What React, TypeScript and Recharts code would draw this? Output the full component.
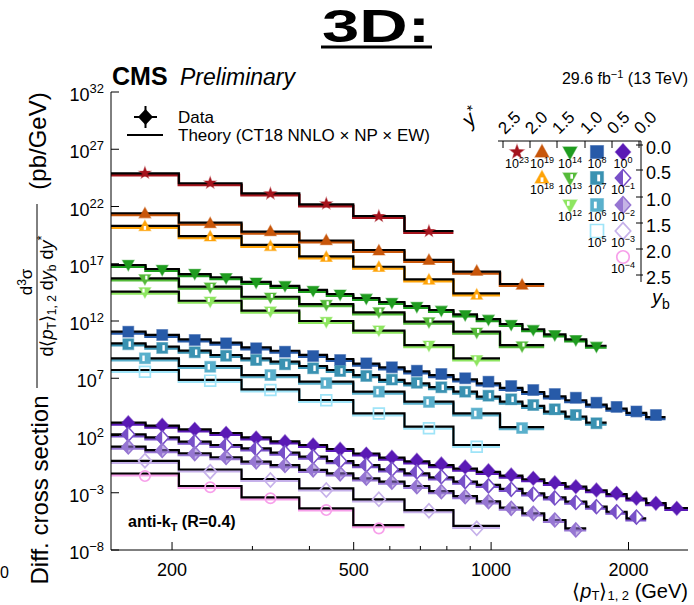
import React from 'react';
import { ComposedChart, Line, Scatter, XAxis, YAxis } from 'recharts';

const FONT = '"Liberation Sans", Arial, Helvetica, sans-serif';

// pT bin edges in GeV (fine binning and the merged, two-bin binning)
const fineEdges = [147, 175, 207, 243, 284, 329, 380, 437, 499, 569, 646, 732, 827, 931, 1046, 1171, 1307, 1455, 1616, 1791, 1981, 2187, 2411, 2700];
const wideEdges = [147, 207, 284, 380, 499, 646, 827, 1046, 1307, 1616];

const xTicks = [200, 300, 400, 500, 600, 700, 800, 900, 1000, 2000];
const xLabels = [200, 500, 1000, 2000];
const yTickExp = [32, 27, 22, 17, 12, 7, 2, -3, -8];

// log10 of the plotted (already scaled) cross section, one entry per pT bin
const starTheory = [24.90, 24.03, 23.15, 22.19, 21.17, 19.86];
const starData = [24.92, 24.06, 23.12, 22.24, 21.14, 19.83];

const triUp1Theory = [21.41, 20.59, 19.80, 19.03, 18.20, 17.33, 16.31, 15.23];
const triUp1Data = [21.38, 20.52, 19.82, 19.03, 18.13, 17.31, 16.36, 15.14];

const triUp2Theory = [20.30, 19.42, 18.64, 17.65, 16.74, 15.64, 14.42];
const triUp2Data = [20.25, 19.36, 18.52, 17.57, 16.69, 15.58, 14.27];

const triDn1Theory = [16.89, 16.54, 16.10, 15.82, 15.41, 15.06, 14.71, 14.36, 14.01, 13.66, 13.31, 12.96, 12.58, 12.17, 11.74, 11.28, 10.84, 10.40, 9.84];
const triDn1Data = [16.93, 16.50, 16.15, 15.78, 15.38, 15.09, 14.67, 14.33, 13.98, 13.62, 13.27, 12.93, 12.54, 12.14, 11.70, 11.25, 10.80, 10.36, 9.78];

const triDn2Theory = [15.73, 15.00, 14.12, 13.48, 12.76, 11.94, 11.07, 9.90];
const triDn2Data = [15.68, 14.96, 14.08, 13.44, 12.80, 11.92, 11.02, 9.82];

const triDn3Theory = [14.56, 13.77, 12.90, 12.00, 11.16, 9.90, 8.74];
const triDn3Data = [14.54, 13.72, 12.86, 11.95, 11.20, 9.88, 8.62];

const sq1Theory = [11.07, 10.78, 10.40, 10.12, 9.70, 9.40, 9.04, 8.68, 8.28, 7.95, 7.60, 7.28, 6.90, 6.55, 6.16, 5.80, 5.42, 5.08, 4.70, 4.34, 3.98, 3.60];
const sq1Data = [11.07, 10.78, 10.34, 10.05, 9.62, 9.32, 8.94, 8.59, 8.30, 7.96, 7.66, 7.37, 7.00, 6.70, 6.32, 5.97, 5.62, 5.30, 4.87, 4.50, 4.10, 3.79];

const sq2Theory = [10.05, 9.76, 9.41, 9.03, 8.74, 8.45, 8.07, 7.72, 7.28, 6.85, 6.56, 6.23, 5.83, 5.39, 4.95, 4.58, 4.08, 3.64, 3.12];
const sq2Data = [9.98, 9.65, 9.27, 8.96, 8.59, 8.22, 7.87, 7.63, 7.20, 6.88, 6.60, 6.21, 5.83, 5.48, 5.16, 4.66, 4.29, 3.79, 3.07];

const sq3Theory = [8.74, 8.07, 7.28, 6.70, 5.83, 4.95, 3.94, 2.74];
const sq3Data = [8.74, 8.00, 7.28, 6.58, 5.83, 4.93, 3.92, 2.65];

const sq4Theory = [7.72, 6.85, 6.03, 5.10, 3.94, 2.77, 1.17];
const sq4Data = [7.57, 6.79, 5.97, 5.08, 3.92, 2.63, 1.02];

const dm1Theory = [3.12, 2.87, 2.54, 2.22, 1.83, 1.48, 1.17, 0.82, 0.43, 0.06, -0.26, -0.58, -0.90, -1.18, -1.50, -1.82, -2.15, -2.47, -2.78, -3.12, -3.50, -3.90, -4.33];
const dm1Data = [3.12, 2.90, 2.54, 2.19, 1.78, 1.46, 1.17, 0.80, 0.38, 0.10, -0.16, -0.48, -0.75, -1.07, -1.45, -1.74, -2.12, -2.47, -2.76, -3.05, -3.48, -3.92, -4.36];

const dm2Theory = [2.10, 1.84, 1.46, 1.17, 0.88, 0.50, 0.15, -0.23, -0.58, -0.95, -1.30, -1.65, -2.02, -2.32, -2.67, -3.05, -3.40, -3.78, -4.22, -4.66, -5.23];
const dm2Data = [2.10, 1.80, 1.46, 1.15, 0.85, 0.50, 0.15, -0.23, -0.58, -0.95, -1.18, -1.60, -2.02, -2.40, -2.70, -3.12, -3.45, -3.85, -4.22, -4.66, -5.12];

const dm3Theory = [1.02, 0.73, 0.45, 0.10, -0.29, -0.58, -1.01, -1.30, -1.74, -2.03, -2.41, -2.85, -3.30, -3.75, -4.30, -4.80, -5.38, -6.11];
const dm3Data = [1.00, 0.70, 0.42, 0.08, -0.30, -0.62, -1.00, -1.35, -1.72, -2.08, -2.47, -2.91, -3.35, -3.78, -4.36, -4.80, -5.38, -6.25];

const dm4Theory = [-0.21, -0.97, -1.80, -2.61, -3.57, -4.51, -5.90];
const dm4Data = [-0.20, -1.16, -1.89, -2.76, -3.57, -4.57, -6.11];

const circTheory = [-1.32, -2.41, -3.41, -4.36, -5.82];
const circData = [-1.54, -2.52, -3.48, -4.51, -6.11];

type Kind = 'star' | 'triUp' | 'triDown' | 'square' | 'diamond' | 'circle';
type Fill = 'full' | 'half' | 'half2' | 'open';

interface Series {
  kind: Kind;
  fill: Fill;
  color: string;
  scale: number; // exponent of the scale factor shown in the legend
  edges: number[];
  theory: number[];
  data: number[];
  col: number;
  row: number;
}

const series: Series[] = [
  { kind: 'star', fill: 'full', color: '#a5141d', scale: 23, edges: wideEdges, theory: starTheory, data: starData, col: 0, row: 0 },
  { kind: 'triUp', fill: 'full', color: '#c8560a', scale: 19, edges: wideEdges, theory: triUp1Theory, data: triUp1Data, col: 1, row: 0 },
  { kind: 'triUp', fill: 'half', color: '#ffa408', scale: 18, edges: wideEdges, theory: triUp2Theory, data: triUp2Data, col: 1, row: 1 },
  { kind: 'triDown', fill: 'full', color: '#1f9c1f', scale: 14, edges: fineEdges, theory: triDn1Theory, data: triDn1Data, col: 2, row: 0 },
  { kind: 'triDown', fill: 'half', color: '#55bb3a', scale: 13, edges: wideEdges, theory: triDn2Theory, data: triDn2Data, col: 2, row: 1 },
  { kind: 'triDown', fill: 'half2', color: '#8ee660', scale: 12, edges: wideEdges, theory: triDn3Theory, data: triDn3Data, col: 2, row: 2 },
  { kind: 'square', fill: 'full', color: '#275aa8', scale: 8, edges: fineEdges, theory: sq1Theory, data: sq1Data, col: 3, row: 0 },
  { kind: 'square', fill: 'half', color: '#3a92b2', scale: 7, edges: fineEdges, theory: sq2Theory, data: sq2Data, col: 3, row: 1 },
  { kind: 'square', fill: 'half2', color: '#5ab0cc', scale: 6, edges: wideEdges, theory: sq3Theory, data: sq3Data, col: 3, row: 2 },
  { kind: 'square', fill: 'open', color: '#9fe4f8', scale: 5, edges: wideEdges, theory: sq4Theory, data: sq4Data, col: 3, row: 3 },
  { kind: 'diamond', fill: 'full', color: '#5a1ab5', scale: 0, edges: fineEdges, theory: dm1Theory, data: dm1Data, col: 4, row: 0 },
  { kind: 'diamond', fill: 'half', color: '#7850c8', scale: -1, edges: fineEdges, theory: dm2Theory, data: dm2Data, col: 4, row: 1 },
  { kind: 'diamond', fill: 'half2', color: '#9676d2', scale: -2, edges: fineEdges, theory: dm3Theory, data: dm3Data, col: 4, row: 2 },
  { kind: 'diamond', fill: 'open', color: '#c6b1ea', scale: -3, edges: wideEdges, theory: dm4Theory, data: dm4Data, col: 4, row: 3 },
  { kind: 'circle', fill: 'open', color: '#f7a0ea', scale: -4, edges: wideEdges, theory: circTheory, data: circData, col: 4, row: 4 },
];

const legendColX = [517, 542, 570, 597, 623];
const legendRowY = [152, 178, 205, 231, 257];

const stepPoints = (edges: number[], vals: number[]) => {
  const pts = vals.map((v, i) => ({ x: edges[i], y: Math.pow(10, v) }));
  pts.push({ x: edges[vals.length], y: Math.pow(10, vals[vals.length - 1]) });
  return pts;
};

const markerPoints = (edges: number[], vals: number[]) =>
  vals.map((v, i) => ({ x: Math.sqrt(edges[i] * edges[i + 1]), y: Math.pow(10, v) }));

const expText = (e: number) => (e < 0 ? '\u2212' + Math.abs(e) : String(e));

function Marker({ kind, fill, color, cx, cy, k = 1 }: { kind: Kind; fill: Fill; color: string; cx: number; cy: number; k?: number }) {
  if (cx == null || cy == null) return null;
  const open = fill === 'open';
  const base = {
    fill: open ? 'none' : color,
    stroke: color,
    strokeWidth: open ? 1.7 : 1.2,
    strokeOpacity: open ? 1 : 0.5,
  };
  if (kind === 'circle') {
    return <circle cx={cx} cy={cy} r={5.2 * k} {...base} />;
  }
  let d = '';
  let bar: React.ReactNode = null;
  if (kind === 'square') {
    const h = 5.4 * k;
    d = `M${cx - h},${cy - h}H${cx + h}V${cy + h}H${cx - h}Z`;
    if (fill === 'half' || fill === 'half2') {
      const bx = fill === 'half' ? cx + 0.2 * k : cx - 2.6 * k;
      bar = <rect x={bx} y={cy - 2.8 * k} width={2.4 * k} height={5.6 * k} fill="#fff" />;
    }
  } else if (kind === 'diamond') {
    const h = 7 * k;
    const w = 6.4 * k;
    d = `M${cx},${cy - h}L${cx + w},${cy}L${cx},${cy + h}L${cx - w},${cy}Z`;
    if (fill === 'half' || fill === 'half2') {
      return (
        <g>
          <path d={d} fill={fill === 'half' ? '#fff' : color} fillOpacity={fill === 'half' ? 1 : 0.55} stroke={color} strokeWidth={1.5} />
          <path d={`M${cx},${cy - h}L${cx - w},${cy}L${cx},${cy + h}Z`} fill={color} />
        </g>
      );
    }
  } else if (kind === 'triUp') {
    d = `M${cx},${cy - 6.2 * k}L${cx + 5.8 * k},${cy + 4.2 * k}L${cx - 5.8 * k},${cy + 4.2 * k}Z`;
    if (fill !== 'full') bar = <rect x={cx - 1.2 * k} y={cy - 0.5 * k} width={2.4 * k} height={3.8 * k} fill="#fff" />;
  } else if (kind === 'triDown') {
    d = `M${cx - 5.8 * k},${cy - 4.2 * k}L${cx + 5.8 * k},${cy - 4.2 * k}L${cx},${cy + 6.2 * k}Z`;
    if (fill !== 'full') {
      const bx = fill === 'half' ? cx + 0.3 * k : cx - 2.5 * k;
      bar = <rect x={bx} y={cy - 3.2 * k} width={2.2 * k} height={3.8 * k} fill="#fff" />;
    }
  } else if (kind === 'star') {
    const pts: string[] = [];
    for (let i = 0; i < 10; i++) {
      const r = (i % 2 === 0 ? 6 : 2.5) * k;
      const a = -Math.PI / 2 + (i * Math.PI) / 5;
      pts.push(`${cx + r * Math.cos(a)},${cy + r * Math.sin(a)}`);
    }
    d = 'M' + pts.join('L') + 'Z';
  }
  return (
    <g>
      <path d={d} {...base} />
      {bar}
    </g>
  );
}

const XTick = (props: any) => {
  const { x, y, payload } = props;
  const major = xLabels.includes(payload.value);
  return (
    <g>
      <line x1={x} x2={x} y1={y} y2={y - (major ? 8 : 4)} stroke="#000" strokeWidth={1} />
      {major && (
        <text x={x} y={y + 26} textAnchor="middle" fontSize={18} fontFamily={FONT} fill="#000">
          {payload.value}
        </text>
      )}
    </g>
  );
};

const XTopTick = (props: any) => {
  const { x, y, payload } = props;
  const major = xLabels.includes(payload.value);
  return <line x1={x} x2={x} y1={y} y2={y + (major ? 8 : 4)} stroke="#000" strokeWidth={1} />;
};

const YTick = (props: any) => {
  const { x, y, payload } = props;
  const e = Math.round(Math.log10(payload.value));
  return (
    <g>
      <line x1={x} x2={x + 8} y1={y} y2={y} stroke="#000" strokeWidth={1} />
      <text x={x - 7} y={y + 9} textAnchor="end" fontSize={18} fontFamily={FONT} fill="#000">
        10<tspan dy={-8} fontSize={13}>{expText(e)}</tspan>
      </text>
    </g>
  );
};

const YRightTick = (props: any) => {
  const { x, y } = props;
  return <line x1={x} x2={x - 8} y1={y} y2={y} stroke="#000" strokeWidth={1} />;
};

function Overlay() {
  const gridTicksX = [503, 530, 557, 585, 612, 639];
  const ystarLabels = ['2.5', '2.0', '1.5', '1.0', '0.5', '0.0'];
  const ybLabels = ['0.0', '0.5', '1.0', '1.5', '2.0', '2.5'];
  const ybY = [148, 173, 200, 226, 252, 278];
  return (
    <svg width={694} height={605} style={{ position: 'absolute', left: 0, top: 0, pointerEvents: 'none', overflow: 'visible' }} fontFamily={FONT}>
      {/* title */}
      <text x={376} y={42} textAnchor="middle" fontSize={46} fontWeight="bold" textLength={108} lengthAdjust="spacingAndGlyphs">3D:</text>
      <line x1={321} x2={432} y1={47} y2={47} stroke="#000" strokeWidth={3} />

      <text x={112} y={85} fontSize={25} fontWeight="bold">CMS</text>
      <text x={180} y={85} fontSize={23} fontStyle="italic">Preliminary</text>
      <text x={688} y={84} fontSize={16} textAnchor="end">
        29.6 fb<tspan dy={-6} fontSize={11}>{'\u22121'}</tspan>
        <tspan dy={6}> (13 TeV)</tspan>
      </text>

      {/* data / theory legend */}
      <line x1={134} x2={157} y1={117} y2={117} stroke="#000" strokeWidth={2} />
      <line x1={145.5} x2={145.5} y1={106} y2={128} stroke="#000" strokeWidth={2} />
      <path d="M145.5,109L153,117L145.5,125L138,117Z" fill="#000" />
      <text x={178} y={123} fontSize={17}>Data</text>
      <line x1={127} x2={163} y1={135} y2={135} stroke="#000" strokeWidth={2.2} />
      <text x={178} y={141} fontSize={17}>Theory (CT18 NNLO × NP × EW)</text>

      {/* y*, yb grid legend */}
      <text x={470} y={128} fontSize={21} fontStyle="italic" transform="rotate(-45 470 128)">
        y<tspan dy={-7} fontSize={15}>*</tspan>
      </text>
      <line x1={498} x2={641} y1={141} y2={141} stroke="#000" strokeWidth={1} />
      {gridTicksX.map((tx, i) => (
        <g key={'gx' + i}>
          <line x1={tx} x2={tx} y1={141} y2={148} stroke="#000" strokeWidth={1} />
          <text x={tx + 2} y={135} fontSize={17} transform={`rotate(-45 ${tx + 2} 135)`}>{ystarLabels[i]}</text>
        </g>
      ))}
      <line x1={641} x2={641} y1={141} y2={282} stroke="#000" strokeWidth={1} />
      {ybY.map((ty, i) => (
        <g key={'gy' + i}>
          <line x1={636} x2={643} y1={ty - 3} y2={ty - 3} stroke="#000" strokeWidth={1} />
          <text x={646} y={ty + 6} fontSize={18}>{ybLabels[i]}</text>
        </g>
      ))}
      <text x={652} y={304} fontSize={20} fontStyle="italic">
        y<tspan dy={5} fontSize={14} fontStyle="normal">b</tspan>
      </text>
      {series.map((s, i) => {
        const cx = legendColX[s.col];
        const cy = legendRowY[s.row];
        return (
          <g key={'lg' + i}>
            <Marker kind={s.kind} fill={s.fill} color={s.color} cx={cx} cy={cy} k={1.2} />
            <text x={cx} y={cy + 16} fontSize={12.5} textAnchor="middle">
              10<tspan dy={-5} fontSize={9}>{expText(s.scale)}</tspan>
            </text>
          </g>
        );
      })}

      <text x={128} y={527} fontSize={16} fontWeight="bold">
        anti-k<tspan dy={4} fontSize={11}>T</tspan>
        <tspan dy={-4}> (R=0.4)</tspan>
      </text>

      {/* y axis title */}
      <g transform="rotate(-90)">
        <text x={-490} y={48} textAnchor="middle" fontSize={24}>Diff. cross section</text>
        <text x={-141} y={46} textAnchor="middle" fontSize={24}>(pb/GeV)</text>
        <text x={-282} y={32} textAnchor="middle" fontSize={17}>
          d<tspan dy={-6} fontSize={12}>3</tspan>
          <tspan dy={6}>σ</tspan>
        </text>
        <line x1={-204} x2={-388} y1={37} y2={37} stroke="#000" strokeWidth={1} />
        <text x={-296} y={53} textAnchor="middle" fontSize={18}>
          d⟨<tspan fontStyle="italic">p</tspan>
          <tspan fontSize={12} dy={3}>T</tspan>
          <tspan dy={-3}>⟩</tspan>
          <tspan fontSize={12} dy={3}>1, 2</tspan>
          <tspan dy={-3}> d</tspan>
          <tspan fontStyle="italic">y</tspan>
          <tspan fontSize={12} dy={3}>b</tspan>
          <tspan dy={-3}> d</tspan>
          <tspan fontStyle="italic">y</tspan>
          <tspan fontSize={13} dy={-7}>*</tspan>
        </text>
      </g>

      {/* x axis title */}
      <text x={688} y={598} textAnchor="end" fontSize={20}>
        ⟨<tspan fontStyle="italic">p</tspan>
        <tspan fontSize={13} dy={2}>T</tspan>
        <tspan dy={-2}>⟩</tspan>
        <tspan fontSize={13} dy={2}>1, 2</tspan>
        <tspan dy={-2}> (GeV)</tspan>
      </text>
      <text x={0} y={578} fontSize={16}>0</text>
    </svg>
  );
}

export default function App() {
  return (
    <div style={{ position: 'fixed', left: 0, top: 0, width: 694, height: 605, background: '#fff', fontFamily: FONT }}>
      <style>{'.shade .recharts-curve { transform: translateY(1.8px); }'}</style>
      <ComposedChart width={694} height={605} margin={{ top: 92, right: 6, bottom: 25, left: 51 }}>
        <XAxis
          xAxisId="bottom"
          dataKey="x"
          type="number"
          scale="log"
          domain={[147, 2700]}
          allowDataOverflow
          ticks={xTicks}
          interval={0}
          tick={<XTick />}
          tickLine={false}
          tickSize={0}
          tickMargin={0}
          height={30}
          axisLine={{ stroke: '#000', strokeWidth: 1 }}
        />
        <XAxis
          xAxisId="top"
          orientation="top"
          dataKey="x"
          type="number"
          scale="log"
          domain={[147, 2700]}
          allowDataOverflow
          ticks={xTicks}
          interval={0}
          tick={<XTopTick />}
          tickLine={false}
          tickSize={0}
          tickMargin={0}
          height={0}
          axisLine={{ stroke: '#000', strokeWidth: 1 }}
        />
        <YAxis
          yAxisId="left"
          dataKey="y"
          type="number"
          scale="log"
          domain={[1e-8, 1e32]}
          allowDataOverflow
          ticks={yTickExp.map((e) => Math.pow(10, e))}
          interval={0}
          tick={<YTick />}
          tickLine={false}
          tickSize={0}
          tickMargin={0}
          width={60}
          axisLine={{ stroke: '#000', strokeWidth: 1 }}
        />
        <YAxis
          yAxisId="right"
          orientation="right"
          dataKey="y"
          type="number"
          scale="log"
          domain={[1e-8, 1e32]}
          allowDataOverflow
          ticks={yTickExp.map((e) => Math.pow(10, e))}
          interval={0}
          tick={<YRightTick />}
          tickLine={false}
          tickSize={0}
          tickMargin={0}
          width={0}
          axisLine={{ stroke: '#000', strokeWidth: 1 }}
        />
        {series.map((s, i) => (
          <Line
            key={'shade' + i}
            className="shade"
            xAxisId="bottom"
            yAxisId="left"
            data={stepPoints(s.edges, s.theory)}
            dataKey="y"
            type="stepAfter"
            stroke={s.color}
            strokeWidth={2.6}
            dot={false}
            activeDot={false}
            isAnimationActive={false}
          />
        ))}
        {series.map((s, i) => (
          <Scatter
            key={'data' + i}
            xAxisId="bottom"
            yAxisId="left"
            data={markerPoints(s.edges, s.data)}
            dataKey="y"
            isAnimationActive={false}
            shape={(p: any) => <Marker kind={s.kind} fill={s.fill} color={s.color} cx={p.cx} cy={p.cy} />}
          />
        ))}
        {series.map((s, i) => (
          <Line
            key={'theory' + i}
            xAxisId="bottom"
            yAxisId="left"
            data={stepPoints(s.edges, s.theory)}
            dataKey="y"
            type="stepAfter"
            stroke="#000"
            strokeWidth={2.2}
            dot={false}
            activeDot={false}
            isAnimationActive={false}
          />
        ))}
      </ComposedChart>
      <Overlay />
    </div>
  );
}
